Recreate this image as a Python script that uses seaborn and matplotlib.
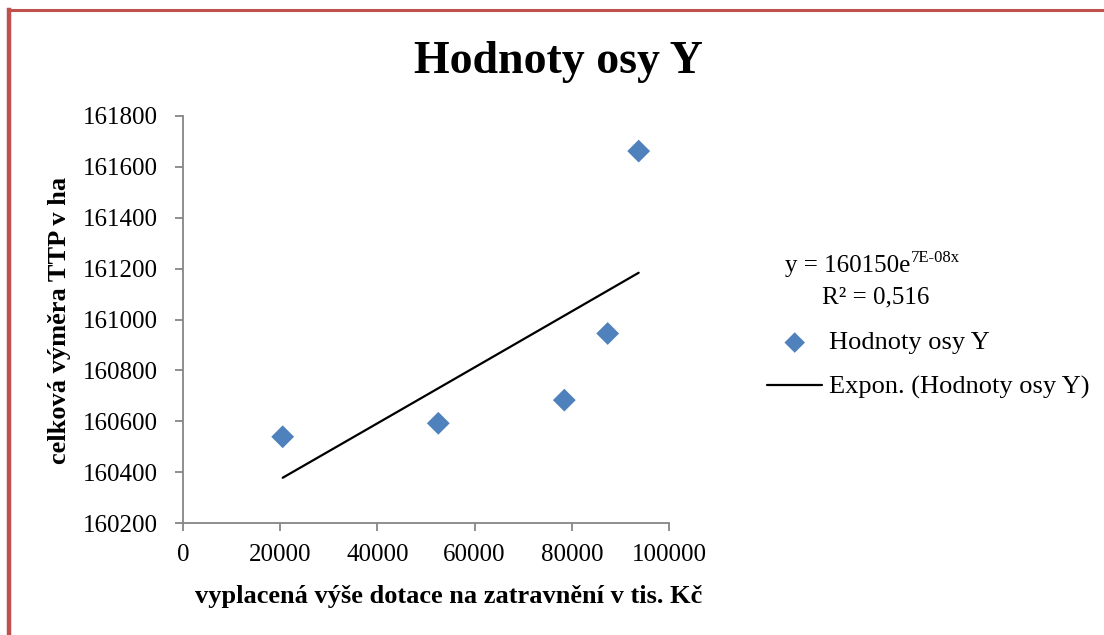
import numpy as np
import pandas as pd
import matplotlib
matplotlib.use("Agg")
import matplotlib.pyplot as plt
from matplotlib.lines import Line2D
import seaborn as sns

# ---- data ----
dotace = [20510, 52530, 78460, 87380, 93760]          # x: vyplacená výše dotace (tis. Kč)
vymera = [160539, 160592, 160683, 160945, 161662]      # y: celková výměra TTP (ha)
x_ticks = [0, 20000, 40000, 60000, 80000, 100000]
y_ticks = [160200, 160400, 160600, 160800, 161000, 161200, 161400, 161600, 161800]
title = "Hodnoty osy Y"
series_name = "Hodnoty osy Y"
trend_name = "Expon. (Hodnoty osy Y)"
eq_main = "y = 160150e"
eq_exp = "7E-08x"
r2_text = "R² = 0,516"
xlabel = "vyplacená výše dotace na zatravnění v tis. Kč"
ylabel = "celková výměra TTP v ha"

sns.set_style("white")
plt.rcParams["font.family"] = ["Liberation Serif", "DejaVu Serif"]
plt.rcParams["text.color"] = "black"
plt.rcParams["axes.labelcolor"] = "black"

df = pd.DataFrame({"x": dotace, "y": vymera})

# exponential trendline (Excel style: fit on ln y)
b, lna = np.polyfit(df["x"], np.log(df["y"]), 1)
xs = np.linspace(df["x"].min(), df["x"].max(), 100)
trend = pd.DataFrame({"x": xs, "y": np.exp(lna) * np.exp(b * xs)})

fig = plt.figure(figsize=(11.04, 6.35), dpi=100)
ax = fig.add_axes([183 / 1104, 1 - 523 / 635, 486 / 1104, 407 / 635])

blue = "#4F81BD"
sns.scatterplot(data=df, x="x", y="y", ax=ax, marker="D", s=135, color=blue,
                edgecolor="none", label=series_name, zorder=3)
sns.lineplot(data=trend, x="x", y="y", ax=ax, color="black", linewidth=1.6,
             label=trend_name, zorder=2)

ax.set_xlim(x_ticks[0], x_ticks[-1])
ax.set_ylim(y_ticks[0], y_ticks[-1])
ax.set_xticks(x_ticks)
ax.set_yticks(y_ticks)
ax.set_xticklabels([str(t) for t in x_ticks])
ax.set_yticklabels([str(t) for t in y_ticks])

axis_gray = "#868686"
for side in ["top", "right"]:
    ax.spines[side].set_visible(False)
for side in ["left", "bottom"]:
    ax.spines[side].set_color(axis_gray)
    ax.spines[side].set_linewidth(1.3)
ax.tick_params(axis="both", direction="out", length=6, width=1.3, color=axis_gray,
               labelsize=18, labelcolor="black", bottom=True, left=True)
ax.tick_params(axis="y", pad=12)
ax.tick_params(axis="x", pad=9)
ax.grid(False)

ax.set_xlabel(xlabel, fontsize=19, fontweight="bold")
ax.set_ylabel(ylabel, fontsize=19, fontweight="bold")
ax.xaxis.label.set_va("center")
ax.yaxis.label.set_va("center")
ax.xaxis.set_label_coords((449 - 183) / 486, (523 - 597) / 407)
ax.yaxis.set_label_coords((60 - 183) / 486, (523 - 320) / 407)

fig.text(558 / 1104, 1 - 73 / 635, title, fontsize=33, fontweight="bold",
         ha="center", va="baseline", color="black")

leg = ax.legend(loc="upper left", bbox_to_anchor=(767 / 1104, 1 - 331 / 635),
                bbox_transform=fig.transFigure, frameon=False, fontsize=19,
                handlelength=2.1, handletextpad=0.25, labelspacing=0.8,
                borderpad=0, borderaxespad=0, markerscale=0.9)

# trendline equation
t_main = fig.text(785 / 1104, 1 - 272 / 635, eq_main, fontsize=18, ha="left", va="baseline")
fig.canvas.draw()
bb = t_main.get_window_extent(renderer=fig.canvas.get_renderer())
fig.text(bb.x1 / 1104 + 0.5 / 1104, 1 - 262 / 635, eq_exp, fontsize=12, ha="left",
         va="baseline")
fig.text(822 / 1104, 1 - 303 / 635, r2_text, fontsize=18, ha="left", va="baseline")

# red frame (left and top edges, as in the reference)
red = "#C0504D"
fig.add_artist(Line2D([8.5 / 1104, 8.5 / 1104], [0, 1 - 9.5 / 635], color=red,
                      linewidth=3.2, transform=fig.transFigure, solid_capstyle="projecting"))
fig.add_artist(Line2D([8.5 / 1104, 1], [1 - 9.5 / 635, 1 - 9.5 / 635], color=red,
                      linewidth=2.2, transform=fig.transFigure, solid_capstyle="projecting"))

fig.savefig("out.png", dpi=100)
